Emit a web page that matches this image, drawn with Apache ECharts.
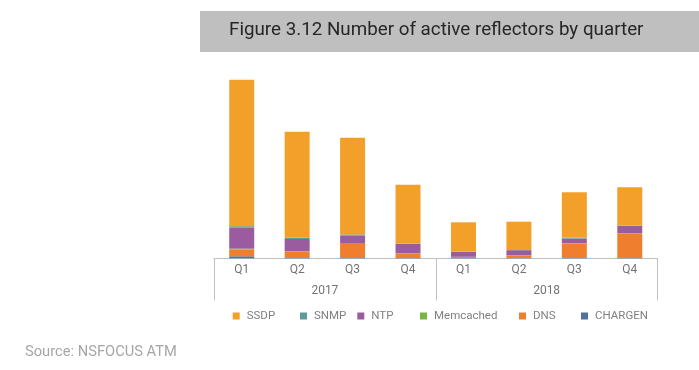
<!DOCTYPE html>
<html>
<head>
<meta charset="utf-8">
<script src="https://cdn.jsdelivr.net/npm/echarts@6/dist/echarts.min.js"></script>
<style>
html,body{margin:0;padding:0;background:#fff;}
#c{width:699px;height:370px;}
</style>
</head>
<body>
<div id="c"></div>
<script>
var years = ['2017', '2018'];
var quarters = ['Q1', 'Q2', 'Q3', 'Q4'];
var seriesNames = ['SSDP', 'SNMP', 'NTP', 'Memcached', 'DNS', 'CHARGEN'];
var CHARGEN = [2, 1, 0.3, 0.3, 0.3, 0.3, 0.3, 0.3];
var DNS = [7, 5.8, 14, 4.7, 1, 2.6, 14.5, 24.7];
var Memcached = [0.6, 0.3, 0.3, 0.2, 0.2, 0.2, 0.3, 0.2];
var NTP = [21, 12.2, 8.3, 9.3, 5, 5, 4.6, 7.3];
var SNMP = [1.5, 1.2, 1, 0.3, 0.2, 0.2, 1, 0.3];
var SSDP = [146.5, 106.1, 96.7, 58.8, 29.3, 28.3, 45.3, 38.2];

var categories = [];
years.forEach(function (y) { quarters.forEach(function (q) { categories.push(y + ' ' + q); }); });

var colors = {
  SSDP: '#F3A02A',
  SNMP: '#5B9C9C',
  NTP: '#9B5C9F',
  Memcached: '#7BB541',
  DNS: '#EF7E2F',
  CHARGEN: '#4F72A0'
};
var valuesByName = { SSDP: SSDP, SNMP: SNMP, NTP: NTP, Memcached: Memcached, DNS: DNS, CHARGEN: CHARGEN };
var stackOrder = ['CHARGEN', 'DNS', 'Memcached', 'NTP', 'SNMP', 'SSDP'];

var legendLefts = [232.7, 300, 357.3, 420, 519, 581];
var legends = seriesNames.map(function (n, i) {
  return {
    data: [n],
    left: legendLefts[i],
    top: 310,
    padding: 0,
    itemWidth: 7,
    itemHeight: 7,
    icon: 'rect',
    selectedMode: false,
    textStyle: { color: '#808080', fontSize: 11.5, fontFamily: 'Roboto', padding: [0, 0, 0, 2] }
  };
});

var chart = echarts.init(document.getElementById('c'), null, { renderer: 'canvas' });
chart.setOption({
  animation: false,
  backgroundColor: '#fff',
  graphic: [
    { type: 'rect', shape: { x: 200, y: 11, width: 499, height: 41 }, style: { fill: '#bfbfbf' }, z: 0 },
    { type: 'text', left: 229, top: 20.5, style: { text: 'Figure 3.12 Number of active reflectors by quarter', fill: '#262626', font: '18.8px Roboto' }, z: 1 },
    { type: 'text', left: 25, top: 344.5, style: { text: 'Source: NSFOCUS ATM', fill: '#a6a6a6', font: '14.7px Roboto' }, z: 1 }
  ],
  legend: legends,
  grid: { left: 214, right: 41.5, top: 58.3, bottom: 111.7 },
  xAxis: [
    {
      type: 'category',
      data: categories,
      axisLine: { show: true, lineStyle: { color: '#bfbfbf', width: 1 } },
      axisTick: { show: false },
      axisLabel: {
        margin: 6, color: '#737373', fontSize: 12, fontFamily: 'Roboto',
        formatter: function (v) { return v.split(' ')[1]; }
      }
    },
    {
      type: 'category',
      data: years,
      position: 'bottom',
      offset: 0,
      axisLine: { show: false },
      axisTick: { show: true, length: 42, interval: 0, lineStyle: { color: '#bfbfbf' } },
      axisLabel: { margin: 27, color: '#737373', fontSize: 12, fontFamily: 'Roboto' }
    }
  ],
  yAxis: { type: 'value', min: 0, max: 200, show: false, splitLine: { show: false } },
  series: stackOrder.map(function (n) {
    return {
      name: n,
      type: 'bar',
      stack: 'total',
      xAxisIndex: 0,
      barWidth: 25,
      itemStyle: { color: colors[n] },
      data: valuesByName[n]
    };
  })
});
</script>
</body>
</html>
